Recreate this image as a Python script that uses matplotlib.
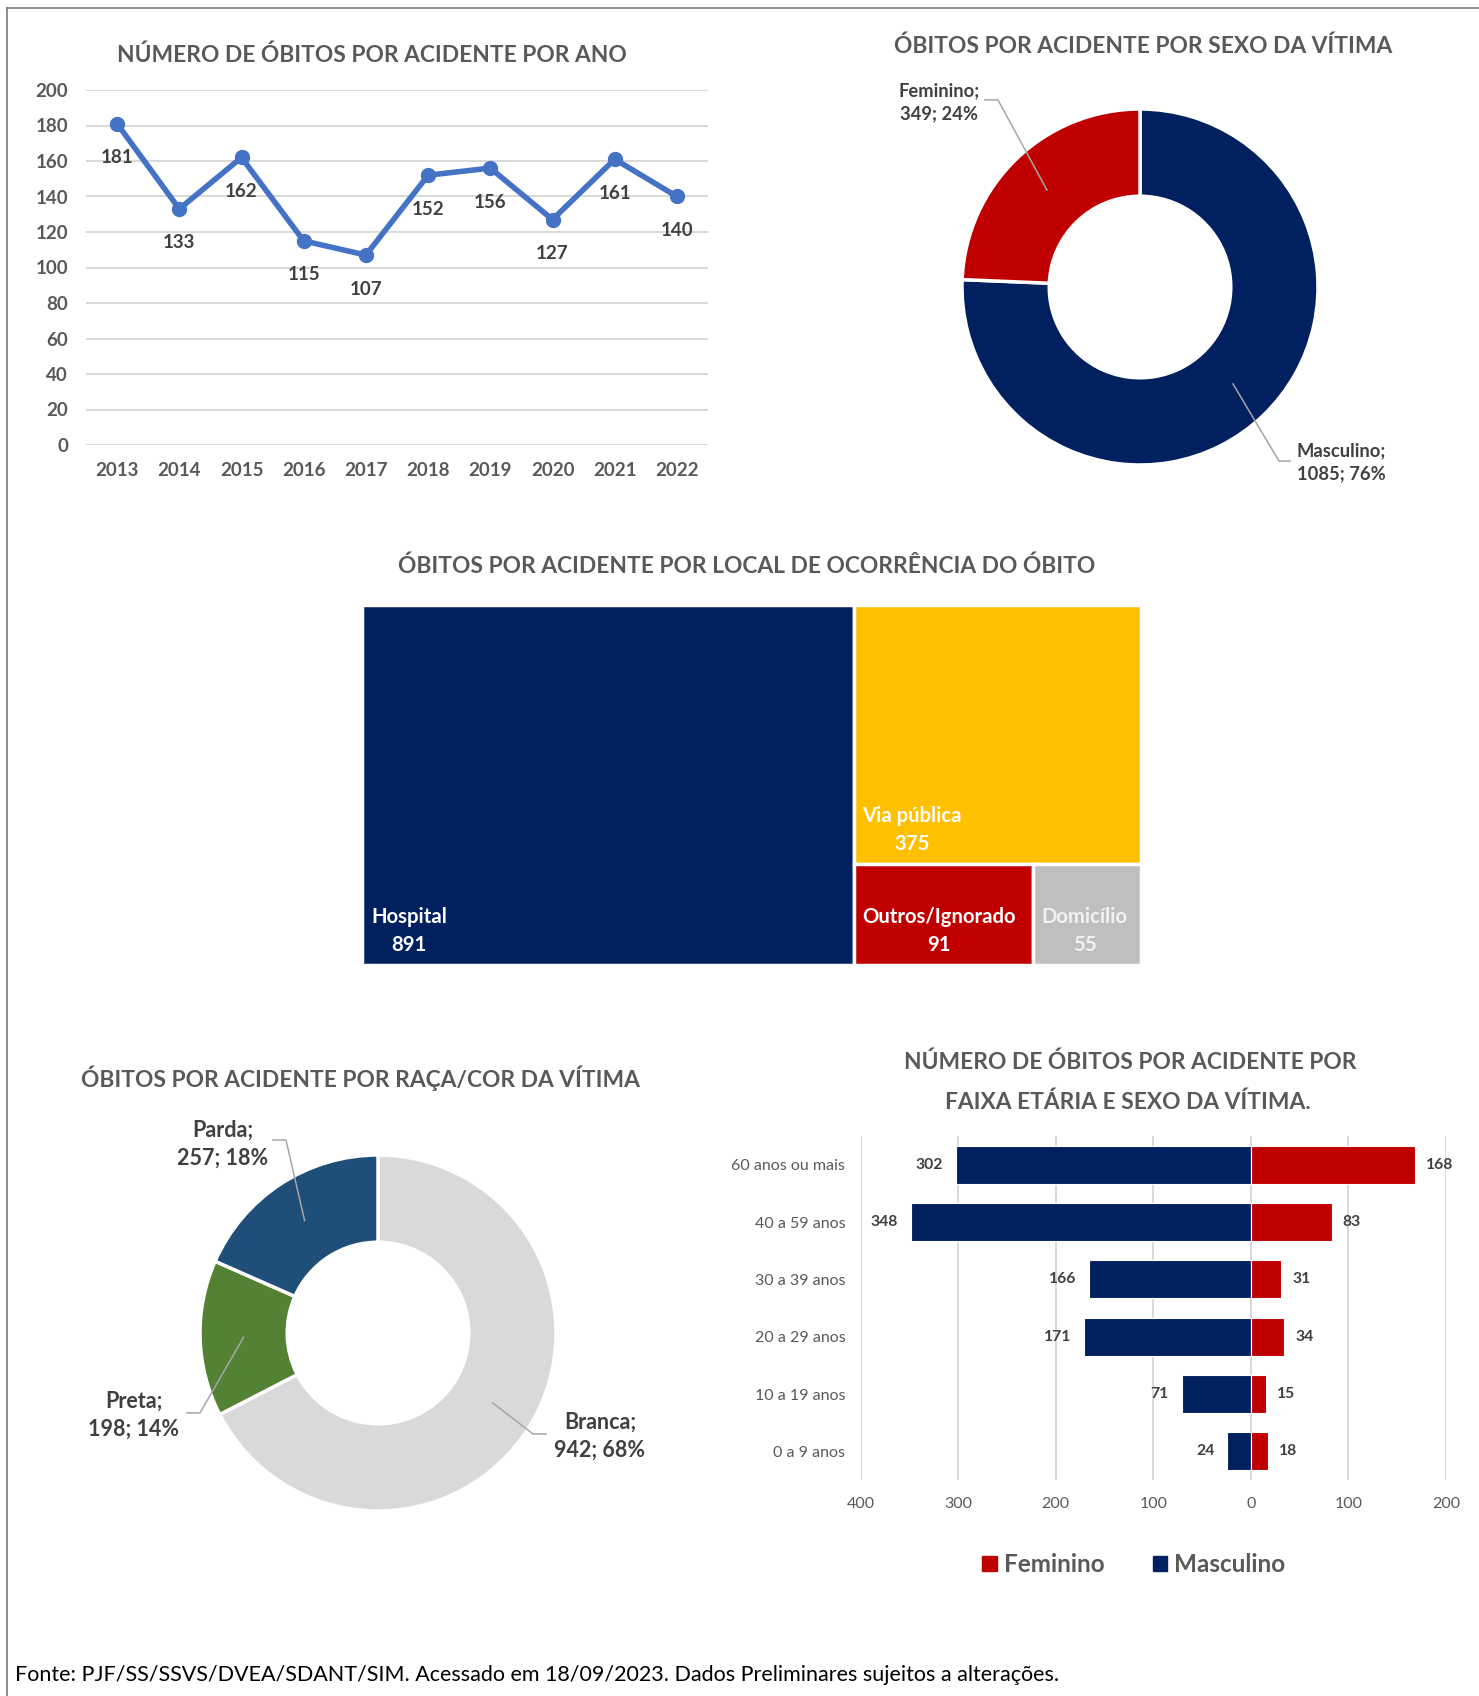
import matplotlib
matplotlib.use('Agg')
import matplotlib.pyplot as plt
from matplotlib.lines import Line2D
from matplotlib.patches import Rectangle, Patch
from matplotlib.ticker import FuncFormatter, MultipleLocator
import numpy as np

W, H = 1479, 1696

plt.rcParams['font.family'] = ['Lato', 'DejaVu Sans']

# dados
anos = ['2013', '2014', '2015', '2016', '2017', '2018', '2019', '2020', '2021', '2022']
obitos_ano = [181, 133, 162, 115, 107, 152, 156, 127, 161, 140]

sexos = ['Masculino', 'Feminino']
obitos_sexo = [1085, 349]
pct_sexo = [76, 24]

locais = ['Hospital', 'Via pública', 'Outros/Ignorado', 'Domicílio']
obitos_local = [891, 375, 91, 55]

racas = ['Branca', 'Preta', 'Parda']
obitos_raca = [942, 198, 257]
pct_raca = [68, 14, 18]

faixas = ['60 anos ou mais', '40 a 59 anos', '30 a 39 anos',
          '20 a 29 anos', '10 a 19 anos', '0 a 9 anos']
masc_faixa = [302, 348, 166, 171, 71, 24]
fem_faixa = [168, 83, 31, 34, 15, 18]

titulo_ano = 'NÚMERO DE ÓBITOS POR ACIDENTE POR ANO'
titulo_sexo = 'ÓBITOS POR ACIDENTE POR SEXO DA VÍTIMA'
titulo_local = 'ÓBITOS POR ACIDENTE POR LOCAL DE OCORRÊNCIA DO ÓBITO'
titulo_raca = 'ÓBITOS POR ACIDENTE POR RAÇA/COR DA VÍTIMA'
titulo_faixa = ['NÚMERO DE ÓBITOS POR ACIDENTE POR', 'FAIXA ETÁRIA E SEXO DA VÍTIMA.']
fonte = ('Fonte: PJF/SS/SSVS/DVEA/SDANT/SIM. Acessado em 18/09/2023. '
         'Dados Preliminares sujeitos a alterações.')

AZUL = '#002060'
VERMELHO = '#C00000'
CINZA_TXT = '#595959'
ESCURO = '#404040'
GRADE = '#D9D9D9'
TITULO_FS = 16.4

fig = plt.figure(figsize=(W / 100, H / 100), dpi=100)


def px_axes(x0, y0, x1, y1):
    # eixos posicionados em pixels (origem no canto superior esquerdo)
    return fig.add_axes([x0 / W, 1 - y1 / H, (x1 - x0) / W, (y1 - y0) / H])


def fig_text(x, y, s, **kw):
    return fig.text(x / W, 1 - y / H, s, **kw)


def titulo(x, y, s):
    fig_text(x, y, s, ha='center', va='baseline', fontsize=TITULO_FS,
             fontweight='bold', color=CINZA_TXT)


# moldura
fig.add_artist(Line2D([7 / W, 7 / W], [0, 1 - 8 / H], color='#7a7a7a', lw=1.2))
fig.add_artist(Line2D([7 / W, 1], [1 - 8 / H, 1 - 8 / H], color='#7a7a7a', lw=1.2))

# ---- linha: obitos por ano ----
ax = px_axes(86, 90, 708, 445)
x = np.arange(len(anos))
ax.plot(x, obitos_ano, color='#4472C4', lw=4.0, marker='o', ms=10)
for i, v in enumerate(obitos_ano):
    ax.annotate(str(v), (i, v), xytext=(0, -34), textcoords='offset pixels',
                ha='center', va='center', fontsize=13.5, fontweight='bold', color=ESCURO)
ax.set_xlim(-0.5, len(anos) - 0.5)
ax.set_ylim(0, 200)
ax.yaxis.set_major_locator(MultipleLocator(20))
ax.set_xticks(x)
ax.set_xticklabels(anos)
ax.yaxis.grid(True, color=GRADE, lw=1.4)
ax.set_axisbelow(True)
for s in ax.spines.values():
    s.set_visible(False)
ax.tick_params(length=0, labelsize=13.5, labelcolor=CINZA_TXT)
ax.tick_params(axis='y', pad=13)
ax.tick_params(axis='x', pad=12)
for t in ax.get_xticklabels() + ax.get_yticklabels():
    t.set_fontweight('bold')
titulo(372, 62, titulo_ano)


# ---- roscas ----
def rosca(cx, cy, r, valores, nomes, pcts, cores, rotulos, fs):
    ax = px_axes(cx - r, cy - r, cx + r, cy + r)
    wedges, _ = ax.pie(valores, colors=cores, startangle=90, counterclock=False,
                       radius=1, wedgeprops=dict(width=0.49, edgecolor='white', linewidth=2.5))
    ax.set_xlim(-1, 1)
    ax.set_ylim(-1, 1)
    for w, nome, v, p, (tx, ty, ex, ey, hx) in zip(wedges, nomes, valores, pcts, rotulos):
        ang = np.deg2rad((w.theta1 + w.theta2) / 2)
        px, py = 0.755 * np.cos(ang), 0.755 * np.sin(ang)
        ax.plot([hx, ex, px], [ey, ey, py], color='#A6A6A6', lw=1.1, clip_on=False)
        ax.text(tx, ty, f'{nome};\n{v}; {p}%', ha='center', va='center',
                fontsize=fs, fontweight='bold', color=ESCURO, linespacing=1.42)
    return ax


rosca(1140, 287, 178, obitos_sexo, sexos, pct_sexo, [AZUL, VERMELHO],
      [(1.129, -0.983, 0.781, -0.978, 0.843),
       (-1.129, 1.039, -0.798, 1.051, -0.871)], 13.2)
titulo(1143, 53, titulo_sexo)

rosca(378, 1333, 178, obitos_raca, racas, pct_raca, ['#D9D9D9', '#548235', '#1F4E79'],
      [(1.247, -0.579, 0.871, -0.567, 0.944),
       (-1.371, -0.461, -1.0, -0.449, -1.073),
       (-0.871, 1.062, -0.517, 1.084, -0.590)], 15.5)
titulo(360, 1087, titulo_raca)

# ---- mapa de arvore: local de ocorrencia ----
ax = px_axes(362, 605, 1141, 965)
total = sum(obitos_local)
w0 = obitos_local[0] / total
resto = total - obitos_local[0]
h1 = obitos_local[1] / resto
w2 = obitos_local[2] / (obitos_local[2] + obitos_local[3])
caixas = [
    (0, 0, w0, 1),
    (w0, 1 - h1, 1 - w0, h1),
    (w0, 0, (1 - w0) * w2, 1 - h1),
    (w0 + (1 - w0) * w2, 0, (1 - w0) * (1 - w2), 1 - h1),
]
cores_local = [AZUL, '#FFC000', VERMELHO, '#BFBFBF']
cores_txt = ['white', 'white', 'white', '#F2F2F2']
for (x0, y0, cw, ch), nome, v, c, ct in zip(caixas, locais, obitos_local, cores_local, cores_txt):
    ax.add_patch(Rectangle((x0, y0), cw, ch, facecolor=c, edgecolor='white', lw=2.5))
    ax.annotate(f'{nome}\n{v}', (x0, y0), xytext=(9, 10), textcoords='offset pixels',
                ha='left', va='bottom', multialignment='center', fontsize=14.6,
                fontweight='bold', color=ct, linespacing=1.5)
ax.set_xlim(0, 1)
ax.set_ylim(0, 1)
ax.axis('off')
titulo(747, 573, titulo_local)

# ---- piramide: faixa etaria e sexo ----
ax = px_axes(860.6, 1136, 1446, 1480)
y = np.arange(len(faixas))
ax.barh(y, [-m for m in masc_faixa], height=0.66, color=AZUL, edgecolor='white', lw=0.8)
ax.barh(y, fem_faixa, height=0.66, color=VERMELHO, edgecolor='white', lw=0.8)
for i, (m, f) in enumerate(zip(masc_faixa, fem_faixa)):
    ax.annotate(str(m), (-m, i), xytext=(-13, 0), textcoords='offset pixels',
                ha='right', va='center', fontsize=11.3, fontweight='bold', color=ESCURO)
    ax.annotate(str(f), (f, i), xytext=(11, 0), textcoords='offset pixels',
                ha='left', va='center', fontsize=11.3, fontweight='bold', color=ESCURO)
ax.set_xlim(-400, 200)
ax.set_ylim(len(faixas) - 0.5, -0.5)
ax.xaxis.set_major_locator(MultipleLocator(100))
ax.xaxis.set_major_formatter(FuncFormatter(lambda v, p: f'{abs(v):.0f}'))
ax.set_yticks(y)
ax.set_yticklabels(faixas)
ax.xaxis.grid(True, color=GRADE, lw=1.4)
ax.set_axisbelow(True)
for s in ax.spines.values():
    s.set_visible(False)
ax.tick_params(length=0, labelsize=11.5, labelcolor=CINZA_TXT)
ax.tick_params(axis='y', pad=11)
ax.tick_params(axis='x', pad=12)
fig_text(1130, 1069, titulo_faixa[0], ha='center', va='baseline', fontsize=TITULO_FS,
         fontweight='bold', color=CINZA_TXT)
fig_text(1128, 1109, titulo_faixa[1], ha='center', va='baseline', fontsize=TITULO_FS,
         fontweight='bold', color=CINZA_TXT)
fig.legend(handles=[Patch(color=VERMELHO, label='Feminino'), Patch(color=AZUL, label='Masculino')],
           loc='center', bbox_to_anchor=(1134 / W, 1 - 1565 / H), ncol=2, frameon=False,
           handlelength=0.58, handleheight=0.58, handletextpad=0.3, columnspacing=2.0,
           prop=dict(size=17.5, weight='bold'), labelcolor=CINZA_TXT)

fig_text(15, 1675, fonte, ha='left', va='center', fontsize=15.5, color='black')

fig.savefig('out.png', dpi=100)
